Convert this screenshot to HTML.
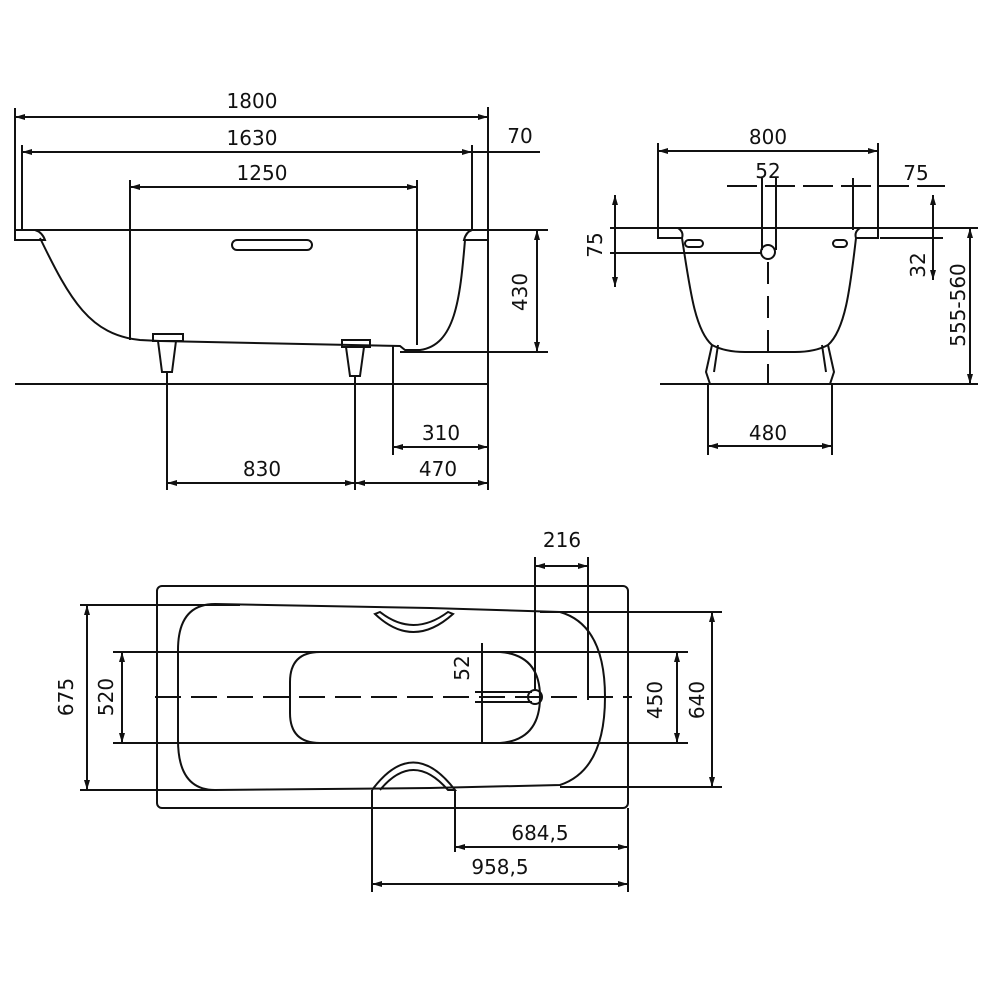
<!DOCTYPE html>
<html><head><meta charset="utf-8"><style>
html,body{margin:0;padding:0;background:#fff}
svg{display:block}
text{font-family:"DejaVu Sans","Liberation Sans",sans-serif;font-size:20px;fill:#111;text-anchor:middle}
</style></head><body>
<svg width="1000" height="1000" viewBox="0 0 1000 1000" xmlns="http://www.w3.org/2000/svg">
<defs>
<marker id="a" viewBox="0 0 10 6" refX="10" refY="3" markerWidth="10" markerHeight="6" orient="auto-start-reverse" markerUnits="userSpaceOnUse"><path d="M0,0L10,3L0,6z" fill="#111"/></marker>
</defs>
<g stroke="#111" stroke-width="2" fill="none">
<!-- ===== Side view ===== -->
<line x1="15" y1="108" x2="15" y2="232"/>
<line x1="488" y1="107" x2="488" y2="490"/>
<line x1="15" y1="117" x2="488" y2="117" marker-start="url(#a)" marker-end="url(#a)"/>
<line x1="22" y1="145" x2="22" y2="230"/>
<line x1="472" y1="145" x2="472" y2="230"/>
<line x1="22" y1="152" x2="472" y2="152" marker-start="url(#a)" marker-end="url(#a)"/>
<line x1="472" y1="152" x2="540" y2="152"/>
<line x1="130" y1="180" x2="130" y2="340"/>
<line x1="417" y1="180" x2="417" y2="345"/>
<line x1="130" y1="187" x2="417" y2="187" marker-start="url(#a)" marker-end="url(#a)"/>
<line x1="35" y1="230" x2="548" y2="230"/>
<path d="M15,230 L35,230 Q42,232 45,240 L15,240 Z"/>
<path d="M488,230 L472,230 Q466,232 464,240 L488,240 Z"/>
<path d="M40,238 C70,300 90,335 140,340 L160,341 L400,346 L405,350 L420,350 C455,345 460,300 465,240"/>
<rect x="232" y="240" width="80" height="10" rx="5"/>
<!-- feet -->
<path d="M153,334 L183,334 L183,341 L153,341 Z M158,341 L162,372 L172,372 L176,341"/>
<line x1="167" y1="372" x2="167" y2="384"/>
<path d="M342,340 L370,340 L370,347 L342,347 Z M346,347 L350,376 L360,376 L364,347"/>
<line x1="355" y1="376" x2="355" y2="384"/>
<line x1="15" y1="384" x2="488" y2="384"/>
<line x1="400" y1="352" x2="548" y2="352"/>
<line x1="537" y1="230" x2="537" y2="352" marker-start="url(#a)" marker-end="url(#a)"/>
<line x1="393" y1="345" x2="393" y2="455"/>
<line x1="393" y1="447" x2="488" y2="447" marker-start="url(#a)" marker-end="url(#a)"/>
<line x1="167" y1="384" x2="167" y2="490"/>
<line x1="355" y1="384" x2="355" y2="490"/>
<line x1="167" y1="483" x2="355" y2="483" marker-start="url(#a)" marker-end="url(#a)"/>
<line x1="355" y1="483" x2="488" y2="483" marker-start="url(#a)" marker-end="url(#a)"/>

<!-- ===== End view ===== -->
<line x1="658" y1="143" x2="658" y2="237"/>
<line x1="878" y1="143" x2="878" y2="238"/>
<line x1="658" y1="151" x2="878" y2="151" marker-start="url(#a)" marker-end="url(#a)"/>
<line x1="727" y1="186" x2="945" y2="186" stroke-dasharray="30,8"/>
<line x1="762" y1="178" x2="762" y2="250"/>
<line x1="776" y1="178" x2="776" y2="250"/>
<line x1="853" y1="178" x2="853" y2="230"/>
<line x1="610" y1="228" x2="978" y2="228"/>
<path d="M658,228 L658,238 L682,238 Q684,232 678,228"/>
<path d="M878,228 L878,238 L856,238 Q854,232 860,228"/>
<path d="M682,238 C690,290 695,330 712,345 Q725,352 745,352 L795,352 Q815,352 828,345 C845,330 850,290 856,238"/>
<rect x="685" y="240" width="18" height="7" rx="3.5"/>
<rect x="833" y="240" width="14" height="7" rx="3.5"/>
<circle cx="768" cy="252" r="7"/>
<line x1="615" y1="195" x2="615" y2="287" marker-start="url(#a)" marker-end="url(#a)"/>
<line x1="610" y1="253" x2="762" y2="253"/>
<line x1="933" y1="195" x2="933" y2="280" marker-start="url(#a)" marker-end="url(#a)"/>
<line x1="880" y1="238" x2="943" y2="238"/>
<line x1="970" y1="228" x2="970" y2="384" marker-start="url(#a)" marker-end="url(#a)"/>
<line x1="768" y1="262" x2="768" y2="384" stroke-dasharray="22,12"/>
<path d="M712,345 L706,372 L710,384 M718,345 L714,372"/>
<path d="M828,345 L834,372 L830,384 M822,345 L826,372"/>
<line x1="660" y1="384" x2="978" y2="384"/>
<line x1="708" y1="384" x2="708" y2="455"/>
<line x1="832" y1="384" x2="832" y2="455"/>
<line x1="708" y1="446" x2="832" y2="446" marker-start="url(#a)" marker-end="url(#a)"/>

<!-- ===== Plan view ===== -->
<rect x="157" y="586" width="471" height="222" rx="5"/>
<path d="M215,604 L430,608 L560,612 Q605,625 605,697 Q605,770 560,785 L430,788 L215,790 Q178,790 178,740 L178,650 Q178,604 215,604 Z"/>
<path d="M320,652 L500,652 Q540,655 540,697 Q540,740 500,743 L320,743 Q290,743 290,713 L290,682 Q290,652 320,652 Z"/>
<path d="M375,614 Q413,650 453,614 L448,612 Q413,638 380,612 Z"/>
<path d="M372,790 Q413,735 455,790 L448,790 Q413,750 380,790"/>
<line x1="80" y1="605" x2="240" y2="605"/>
<line x1="80" y1="790" x2="215" y2="790"/>
<line x1="87" y1="605" x2="87" y2="790" marker-start="url(#a)" marker-end="url(#a)"/>
<line x1="540" y1="612" x2="722" y2="612"/>
<line x1="560" y1="787" x2="722" y2="787"/>
<line x1="712" y1="612" x2="712" y2="787" marker-start="url(#a)" marker-end="url(#a)"/>
<line x1="113" y1="652" x2="688" y2="652"/>
<line x1="113" y1="743" x2="688" y2="743"/>
<line x1="122" y1="652" x2="122" y2="743" marker-start="url(#a)" marker-end="url(#a)"/>
<line x1="677" y1="652" x2="677" y2="743" marker-start="url(#a)" marker-end="url(#a)"/>
<line x1="155" y1="697" x2="632" y2="697" stroke-dasharray="26,10"/>
<line x1="482" y1="643" x2="482" y2="743"/>
<line x1="475" y1="692" x2="532" y2="692"/>
<line x1="475" y1="702" x2="532" y2="702"/>
<circle cx="535" cy="697" r="7"/>
<line x1="535" y1="557" x2="535" y2="690"/>
<line x1="588" y1="557" x2="588" y2="700"/>
<line x1="535" y1="566" x2="588" y2="566" marker-start="url(#a)" marker-end="url(#a)"/>
<line x1="455" y1="790" x2="455" y2="852"/>
<line x1="372" y1="790" x2="372" y2="892"/>
<line x1="628" y1="808" x2="628" y2="892"/>
<line x1="455" y1="847" x2="628" y2="847" marker-start="url(#a)" marker-end="url(#a)"/>
<line x1="372" y1="884" x2="628" y2="884" marker-start="url(#a)" marker-end="url(#a)"/>
</g>
<g>
<text x="252" y="108">1800</text>
<text x="252" y="145">1630</text>
<text x="262" y="180">1250</text>
<text x="520" y="143">70</text>
<text transform="translate(527,292) rotate(-90)">430</text>
<text x="441" y="440">310</text>
<text x="262" y="476">830</text>
<text x="438" y="476">470</text>
<text x="768" y="144">800</text>
<text x="768" y="178">52</text>
<text x="916" y="180">75</text>
<text transform="translate(602,245) rotate(-90)">75</text>
<text transform="translate(925,265) rotate(-90)">32</text>
<text transform="translate(965,305) rotate(-90)">555-560</text>
<text x="768" y="440">480</text>
<text x="562" y="547">216</text>
<text transform="translate(73,697) rotate(-90)">675</text>
<text transform="translate(113,697) rotate(-90)">520</text>
<text transform="translate(469,668) rotate(-90)">52</text>
<text transform="translate(662,700) rotate(-90)">450</text>
<text transform="translate(704,700) rotate(-90)">640</text>
<text x="540" y="840">684,5</text>
<text x="500" y="874">958,5</text>
</g>
</svg>
</body></html>
